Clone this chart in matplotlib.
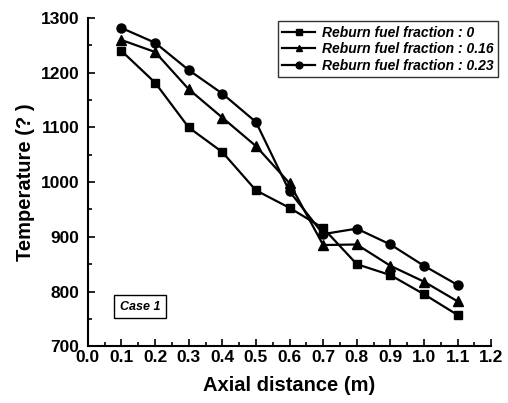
import matplotlib.pyplot as plt
from matplotlib.ticker import MultipleLocator

plt.rcParams["font.family"] = ["Liberation Sans", "DejaVu Sans"]
plt.rcParams["font.weight"] = "bold"

# Axial distance (m)
distance = [0.1, 0.2, 0.3, 0.4, 0.5, 0.6, 0.7, 0.8, 0.9, 1.0, 1.1]

# Temperature for each reburn fuel fraction
temp_0 = [1240, 1182, 1100, 1055, 985, 953, 916, 850, 830, 795, 757]
temp_016 = [1260, 1238, 1170, 1118, 1066, 998, 885, 886, 847, 818, 782]
temp_023 = [1282, 1255, 1205, 1162, 1110, 983, 905, 915, 886, 847, 812]

labels = [
    "Reburn fuel fraction : 0",
    "Reburn fuel fraction : 0.16",
    "Reburn fuel fraction : 0.23",
]

fig = plt.figure(figsize=(5.08, 4.03), dpi=100)
ax = fig.add_axes([0.173, 0.141, 0.794, 0.814])

ax.plot(distance, temp_0, "k-s", lw=1.6, ms=5.8, label=labels[0])
ax.plot(distance, temp_016, "k-^", lw=1.6, ms=6.5, label=labels[1])
ax.plot(distance, temp_023, "k-o", lw=1.6, ms=6.5, label=labels[2])

ax.set_xlim(0.0, 1.2)
ax.set_ylim(700, 1300)
ax.xaxis.set_major_locator(MultipleLocator(0.1))
ax.xaxis.set_minor_locator(MultipleLocator(0.05))
ax.yaxis.set_major_locator(MultipleLocator(100))
ax.yaxis.set_minor_locator(MultipleLocator(50))
ax.xaxis.set_major_formatter(plt.FormatStrFormatter("%.1f"))

ax.spines["top"].set_visible(False)
ax.spines["right"].set_visible(False)
ax.spines["left"].set_linewidth(1.5)
ax.spines["bottom"].set_linewidth(1.5)
ax.tick_params(which="both", direction="in", width=1.2, labelsize=12.5)
ax.tick_params(axis="x", pad=3)
ax.tick_params(axis="y", pad=6)
ax.tick_params(which="major", length=5)
ax.tick_params(which="minor", length=3)

ax.set_xlabel("Axial distance (m)", fontsize=14.5, fontweight="bold", labelpad=8)
ax.set_ylabel("Temperature (? )", fontsize=14.5, fontweight="bold", labelpad=4)

leg = ax.legend(loc="upper right", bbox_to_anchor=(1.017, 0.99), frameon=True,
                fancybox=False, edgecolor="black", handlelength=2.4,
                markerscale=0.75, borderpad=0.3, labelspacing=0.2,
                handletextpad=0.5, borderaxespad=0.0,
                prop={"style": "italic", "weight": "bold", "size": 10})
leg.get_frame().set_linewidth(1.0)

ax.text(0.155, 772, "Case 1", fontsize=9, fontstyle="italic", fontweight="bold",
        ha="center", va="center",
        bbox=dict(boxstyle="square,pad=0.45", fc="white", ec="black", lw=1.0))

fig.savefig("out.png", dpi=100)
